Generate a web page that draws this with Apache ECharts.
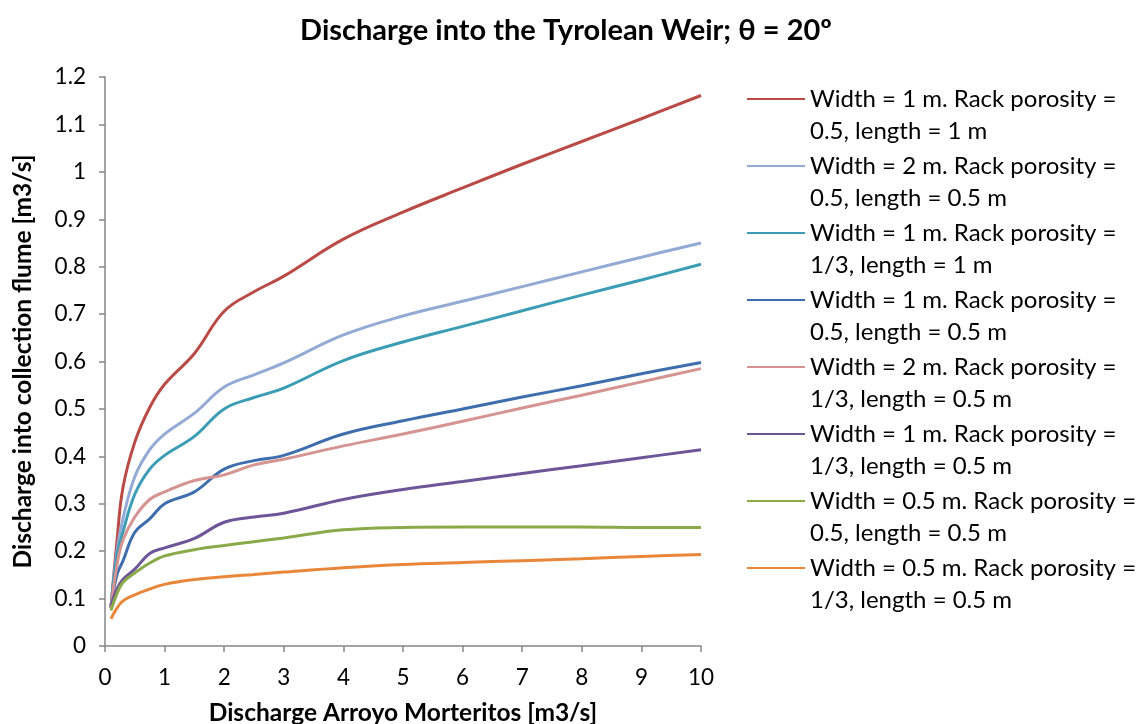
<!DOCTYPE html>
<html>
<head>
<meta charset="utf-8">
<script src="https://cdn.jsdelivr.net/npm/echarts@6/dist/echarts.min.js"></script>
<style>
  html, body { margin: 0; padding: 0; background: #fff; }
  #weir_chart { width: 1143px; height: 724px; }
</style>
</head>
<body>
<div id="weir_chart"></div>
<script>
// 数据
var xValues = [0.1, 0.2, 0.3, 0.5, 0.75, 1, 1.5, 2, 2.5, 3, 4, 5, 6, 7, 8, 9, 10]

var seriesNames = [
  'Width = 1 m. Rack porosity =\n0.5, length = 1 m',
  'Width = 2 m. Rack porosity =\n0.5, length = 0.5 m',
  'Width = 1 m. Rack porosity =\n1/3, length = 1 m',
  'Width = 1 m. Rack porosity =\n0.5, length = 0.5 m',
  'Width = 2 m. Rack porosity =\n1/3, length = 0.5 m',
  'Width = 1 m. Rack porosity =\n1/3, length = 0.5 m',
  'Width = 0.5 m. Rack porosity =\n0.5, length = 0.5 m',
  'Width = 0.5 m. Rack porosity =\n1/3, length = 0.5 m',
]

var w1p05l1 = [0.08, 0.22, 0.333, 0.43, 0.503, 0.552, 0.617, 0.706, 0.747, 0.78, 0.858, 0.915, 0.966, 1.016, 1.064, 1.112, 1.161]
var w2p05l05 = [0.08, 0.2, 0.268, 0.357, 0.414, 0.447, 0.491, 0.546, 0.572, 0.597, 0.656, 0.696, 0.727, 0.758, 0.789, 0.82, 0.85]
var w1p13l1 = [0.08, 0.19, 0.24, 0.32, 0.373, 0.402, 0.442, 0.5, 0.524, 0.544, 0.602, 0.641, 0.674, 0.707, 0.74, 0.772, 0.805]
var w1p05l05 = [0.08, 0.15, 0.179, 0.24, 0.268, 0.3, 0.325, 0.373, 0.391, 0.402, 0.447, 0.475, 0.5, 0.525, 0.549, 0.574, 0.598]
var w2p13l05 = [0.08, 0.17, 0.223, 0.272, 0.309, 0.325, 0.349, 0.361, 0.382, 0.394, 0.422, 0.447, 0.474, 0.502, 0.529, 0.557, 0.585]
var w1p13l05 = [0.085, 0.12, 0.14, 0.162, 0.195, 0.207, 0.227, 0.261, 0.272, 0.28, 0.309, 0.33, 0.347, 0.364, 0.38, 0.397, 0.414]
var w05p05l05 = [0.075, 0.11, 0.134, 0.154, 0.175, 0.19, 0.203, 0.212, 0.22, 0.228, 0.245, 0.25, 0.251, 0.251, 0.251, 0.25, 0.25]
var w05p13l05 = [0.057, 0.08, 0.095, 0.108, 0.12, 0.13, 0.14, 0.146, 0.151, 0.156, 0.165, 0.172, 0.176, 0.18, 0.184, 0.189, 0.193]

var allValues = [w1p05l1, w2p05l05, w1p13l1, w1p05l05, w2p13l05, w1p13l05, w05p05l05, w05p13l05]
var lineColors = ['#B94A45', '#93AAD4', '#3A9DB5', '#3E6EAE', '#D59391', '#6E5597', '#8AAA4A', '#E8873A']

var FONT = 'Lato'

function pairs(ys) {
  return xValues.map(function (x, i) { return [x, ys[i]] })
}

var weir_chart = echarts.init(document.getElementById('weir_chart'))
weir_chart_option = {
  animation: false,
  title: {
    text: 'Discharge into the Tyrolean Weir; θ = 20º',
    left: 561,
    top: 11,
    textAlign: 'center',
    textStyle: {
      fontFamily: FONT,
      fontWeight: 'bold',
      fontSize: 29,
      color: '#000',
    },
  },
  legend: {
    orient: 'vertical',
    left: 742,
    top: 46,
    itemWidth: 58,
    itemHeight: 14,
    itemGap: -29,
    icon: 'path://M0,6 L58,6 L58,8 L0,8 Z',
    // 空行让图标对齐第一行文字
    formatter: function (name) {
      return ' \n' + name
    },
    textStyle: {
      fontFamily: FONT,
      fontSize: 24,
      color: '#000',
      lineHeight: 32,
    },
    data: seriesNames,
  },
  grid: {
    left: 105,
    right: 442,
    top: 77,
    bottom: 78,
    outerBoundsMode: 'none',
  },
  xAxis: {
    type: 'value',
    min: 0,
    max: 10,
    interval: 1,
    name: 'Discharge Arroyo Morteritos [m3/s]',
    nameLocation: 'middle',
    nameGap: 55,
    nameTextStyle: {
      fontFamily: FONT,
      fontWeight: 'bold',
      fontSize: 24.5,
      color: '#000',
    },
    axisLine: { lineStyle: { color: '#868686', width: 1.5 } },
    axisTick: { show: true, length: 6, lineStyle: { color: '#868686', width: 1.5 } },
    axisLabel: { fontFamily: FONT, fontSize: 22.5, color: '#000', margin: 20 },
    splitLine: { show: false },
  },
  yAxis: {
    type: 'value',
    min: 0,
    max: 1.2,
    interval: 0.1,
    name: 'Discharge into collection flume [m3/s]',
    nameLocation: 'middle',
    nameGap: 69,
    nameTextStyle: {
      fontFamily: FONT,
      fontWeight: 'bold',
      fontSize: 24.5,
      color: '#000',
    },
    axisLine: { show: true, lineStyle: { color: '#868686', width: 1.5 } },
    axisTick: { show: true, length: 6, lineStyle: { color: '#868686', width: 1.5 } },
    axisLabel: { fontFamily: FONT, fontSize: 22.5, color: '#000', margin: 19 },
    splitLine: { show: false },
  },
  series: allValues.map(function (ys, i) {
    return {
      name: seriesNames[i],
      type: 'line',
      smooth: 0.4,
      symbol: 'none',
      data: pairs(ys),
      lineStyle: { color: lineColors[i], width: 3 },
      itemStyle: { color: lineColors[i] },
    }
  }),
}
weir_chart.setOption(weir_chart_option)

window.addEventListener('resize', function () {
  weir_chart.resize()
})
</script>
</body>
</html>
